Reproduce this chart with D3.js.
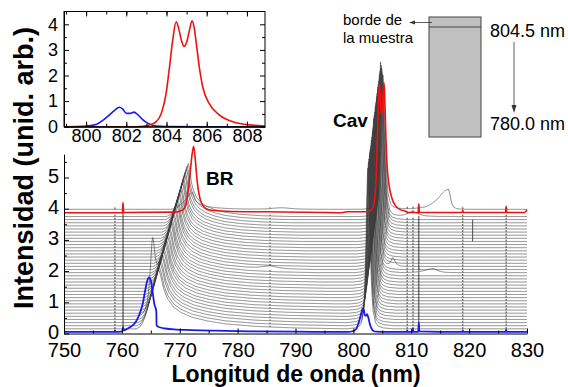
<!DOCTYPE html>
<html><head><meta charset="utf-8">
<script src="https://cdn.jsdelivr.net/npm/d3@7"></script>
<style>body{margin:0;background:#fff}svg{display:block}text{font-family:"Liberation Sans",Arial,sans-serif}</style>
</head><body><svg id="c" width="568" height="387"></svg>
<script>
// ---------- DATA ----------
const mainXTicks = [750,760,770,780,790,800,810,820,830];
const mainYTicks = [0,1,2,3,4,5];
const insetXTicks = [800,802,804,806,808];
const insetYTicks = [0,1,2,3,4];

// black spectra (bottom to top): baseline, BR peak, Cav peak
const blackBase = [0.15,0.25,0.35,0.45,0.55,0.65,0.75,0.85,0.95,1.05,1.15,1.25,1.35,1.45,1.55,1.65,1.75,1.85,1.95,2.05,2.15,2.25,2.35,2.45,2.55,2.65,2.75,2.85,2.95,3.05,3.15,3.25,3.35,3.45,3.55,3.65,3.75,3.98];
const brPos = [766.3,766.4,766.6,766.7,766.9,767.0,767.2,767.3,767.5,767.6,767.7,767.9,768.0,768.2,768.3,768.5,768.6,768.7,768.9,769.0,769.2,769.3,769.5,769.6,769.7,769.9,770.0,770.2,770.3,770.5,770.6,770.7,770.9,771.0,771.2,771.3,771.5,772.2];
const brAmp = [1.95,1.94,1.94,1.93,1.92,1.92,1.91,1.90,1.89,1.89,1.88,1.87,1.87,1.86,1.85,1.85,1.84,1.83,1.82,1.82,1.81,1.80,1.80,1.79,1.78,1.78,1.77,1.76,1.75,1.75,1.74,1.73,1.73,1.72,1.71,1.71,1.70,0.55];
const brTail = [1.30,1.28,1.27,1.25,1.23,1.22,1.20,1.18,1.17,1.15,1.13,1.12,1.10,1.08,1.07,1.05,1.03,1.02,1.00,0.98,0.97,0.95,0.93,0.92,0.90,0.88,0.87,0.85,0.83,0.82,0.80,0.78,0.77,0.75,0.73,0.72,0.70,0.50];
const cavPos = [802.5,802.6,802.6,802.7,802.8,802.8,802.9,803.0,803.1,803.1,803.2,803.3,803.3,803.4,803.5,803.5,803.6,803.7,803.8,803.8,803.9,804.0,804.0,804.1,804.2,804.2,804.3,804.4,804.5,804.5,804.6,804.7,804.7,804.8,804.9,804.9,805.0,805.1];
const cavAmp = [5.15,5.15,5.15,5.15,5.15,5.15,5.15,5.15,5.15,5.15,5.15,5.15,5.15,5.15,5.25,5.25,5.25,5.25,5.25,5.25,5.25,5.25,5.25,5.25,5.25,5.25,5.25,5.25,5.25,5.25,5.25,5.25,5.35,5.15,4.95,4.75,4.55,4.30];
const cavHW = [0.36, 0.44];

// line shapes (dx in nm or half-widths, relative height)
const brLeft = [[-3.8,0],[-3.2,0.03],[-2.7,0.1],[-2.2,0.22],[-1.8,0.36],[-1.4,0.5],[-1.0,0.64],[-0.6,0.8],[-0.3,0.92],[0,1]];
const brRight = [[0,1],[0.3,0.88],[0.7,0.66],[1.2,0.5],[2,0.36],[3,0.27],[4.5,0.19],[6.5,0.13],[9,0.08],[13,0.04],[18,0.015],[25,0]];
const peakShape = [[0,1],[0.25,0.94],[0.5,0.8],[0.75,0.63],[1,0.47],[1.5,0.25],[2,0.12],[3,0.04],[4,0.018],[6,0.006],[10,0]];

// extra features: [spectrum, centre, amplitude, hwLeft, hwRight]
const extraPeaks = [[4,765.3,1.7,0.45,0.45],[20,806.8,0.25,0.35,0.5],[18,813.7,0.13,1.6,1.0],[19,785.6,0.08,1.5,1.5],[36,810.1,0.15,1.0,1.3],[37,816.4,0.65,2.0,0.45],[37,787.5,0.05,2,2]];
// narrow spikes common to all black spectra
const spikeX = [758.8,760.2,785.6,809.3,810.3,811.3,818.9,826.4];
const spikeH = [0.06,0.12,0.04,0.06,0.06,0.12,0.06,0.06];
// single drop spike: [spectrum, x, amplitude]
const dropSpikes = [[35,820.6,-0.7]];

// blue (bottom) and red (top) spectra outside the Cav window
const blueX = [750,758.7,758.8,758.9,760.1,760.2,760.3,761,761.8,762.5,763.1,763.6,764.0,764.4,764.7,765.0,765.3,765.6,765.95,766.0,766.5,767.5,769,772,776,782,790,798];
const blueY = [0.05,0.05,0.1,0.05,0.07,0.2,0.1,0.16,0.25,0.4,0.65,0.95,1.35,1.7,1.8,1.7,1.35,0.95,0.72,0.25,0.2,0.16,0.13,0.11,0.09,0.07,0.06,0.05];
const blueX2 = [809.2,809.3,809.4,810.2,810.3,810.4,811.2,811.3,811.4,818.8,818.9,819.0,826.3,826.4,826.5,830];
const blueY2 = [0.05,0.1,0.05,0.05,0.15,0.05,0.05,0.35,0.07,0.05,0.1,0.05,0.05,0.12,0.05,0.05];
const redX = [750,760.1,760.2,760.3,769,770,770.6,771.0,771.4,771.8,772.1,772.4,772.7,773.0,773.4,773.9,774.6,775.5,778,785,795,798];
const redY = [3.87,3.87,4.2,3.88,3.89,3.92,3.97,4.1,4.5,5.15,5.7,6.0,5.55,4.9,4.4,4.12,4.0,3.95,3.92,3.9,3.88,3.87];
const redX2 = [809.5,811.2,811.3,811.4,818.8,818.9,819.0,826.3,826.4,826.5,829.6,830];
const redY2 = [3.88,3.88,4.15,3.88,3.88,3.95,3.88,3.88,4.08,3.88,3.88,3.97];
const blueBase = 0.05, redBase = 3.9;

// inset (Cav window) spectra
const insetBlueX = [798.9,800.03,800.53,800.85,801.19,801.43,801.65,801.81,802.0,802.2,802.38,802.58,802.8,803.08,803.49,804.0,806,808.9];
const insetBlueY = [0,0.03,0.1,0.26,0.48,0.65,0.76,0.7,0.52,0.52,0.57,0.46,0.29,0.13,0.03,0.01,0,0];
const insetRedX = [798.9,802.5,803.16,803.49,803.74,803.98,804.15,804.31,804.48,804.6,804.75,804.87,805.0,805.15,805.27,805.38,805.46,805.63,805.8,806.12,806.62,807.27,808.1,808.9];
const insetRedY = [0,0,0.07,0.2,0.52,1.3,2.34,3.39,4.1,3.85,3.35,3.13,3.3,3.8,4.14,3.85,3.39,2.34,1.56,0.91,0.46,0.2,0.07,0.03];

// ---------- DRAW ----------
const svg = d3.select("#c");
const x = d3.scaleLinear().domain([750,830]).range([64,527]);
const y = d3.scaleLinear().domain([0,5.75]).range([333.5,154.1]);

function lookup(t,d){
  const n=t.length;
  if(d<=t[0][0]) return t[0][1];
  if(d>=t[n-1][0]) return t[n-1][1];
  for(let i=1;i<n;i++){ if(d<=t[i][0]){ const a=t[i-1],b=t[i]; return a[1]+(b[1]-a[1])*(d-a[0])/(b[0]-a[0]); } }
  return 0;
}
let xs = d3.range(7500,8301).map(i=>i/10);
spikeX.concat(dropSpikes.map(d=>d[1])).forEach(s=>{xs.push(s-0.02,s,s+0.02);});
xs.sort((a,b)=>a-b);
xs = xs.filter((v,i)=>i===0||v-xs[i-1]>1e-6);

function blackY(i,xv){
  let v=blackBase[i];
  const dB=xv-brPos[i];
  v += brAmp[i]*(dB<0?lookup(brLeft,dB):lookup(brRight,dB/brTail[i]));
  const dC=xv-cavPos[i];
  v += cavAmp[i]*lookup(peakShape,Math.abs(dC)/(dC<0?cavHW[0]:cavHW[1]));
  extraPeaks.forEach(p=>{ if(p[0]===i){ const d=xv-p[1]; v+=p[2]*lookup(peakShape,Math.abs(d)/(d<0?p[3]:p[4])); }});
  spikeX.forEach((s,j)=>{ if(Math.abs(xv-s)<0.004) v+=spikeH[j]; });
  dropSpikes.forEach(p=>{ if(p[0]===i && Math.abs(xv-p[1])<0.004) v+=p[2]; });
  return v;
}
const lineLin = d3.line().x(d=>x(d[0])).y(d=>y(d[1]));
const lineSm = d3.line().x(d=>x(d[0])).y(d=>y(d[1])).curve(d3.curveMonotoneX);

const gB = svg.append("g");
blackBase.forEach((b,i)=>{
  gB.append("path").attr("d",lineLin(xs.map(xv=>[xv,blackY(i,xv)])))
    .attr("fill","none").attr("stroke","#3c3c3c").attr("stroke-width",0.6);
});
function composite(xa,ya,ix,iy,base,xb,yb){
  const pts=[];
  xa.forEach((v,i)=>pts.push([v,ya[i]]));
  ix.forEach((v,i)=>pts.push([v,iy[i]+base]));
  xb.forEach((v,i)=>pts.push([v,yb[i]]));
  return pts;
}
svg.append("path").attr("d",lineSm(composite(blueX,blueY,insetBlueX,insetBlueY,blueBase,blueX2,blueY2)))
  .attr("fill","none").attr("stroke","#1a1aee").attr("stroke-width",1.8);
svg.append("path").attr("d",lineSm(composite(redX,redY,insetRedX,insetRedY,redBase,redX2,redY2)))
  .attr("fill","none").attr("stroke","#ee1111").attr("stroke-width",1.6);

function styleAxis(g,fs){
  g.selectAll("path.domain").attr("stroke","#000").attr("stroke-width",1);
  g.selectAll(".tick line").attr("stroke","#000").attr("stroke-width",1);
  g.selectAll("text").attr("font-size",fs).attr("fill","#000").attr("font-family","'Liberation Sans',Arial,sans-serif");
}
const axB = svg.append("g").attr("transform","translate(0,333.5)")
  .call(d3.axisBottom(x).tickValues(mainXTicks).tickSizeInner(-5).tickSizeOuter(0).tickPadding(9.5).tickFormat(d3.format("d")));
styleAxis(axB,20);
svg.append("g").attr("transform","translate(0,333.5)")
  .call(d3.axisBottom(x).tickValues(d3.range(755,830,10)).tickSizeInner(-3).tickSizeOuter(0).tickFormat(""))
  .call(g=>{g.select(".domain").remove(); g.selectAll(".tick line").attr("stroke","#000");});
const axL = svg.append("g").attr("transform","translate(64,0)")
  .call(d3.axisLeft(y).tickValues(mainYTicks).tickSizeInner(-5).tickSizeOuter(0).tickPadding(5).tickFormat(d3.format("d")));
styleAxis(axL,20);
axL.selectAll("text").attr("dy","0.25em");
svg.append("g").attr("transform","translate(64,0)")
  .call(d3.axisLeft(y).tickValues([0.5,1.5,2.5,3.5,4.5,5.5]).tickSizeInner(-3).tickSizeOuter(0).tickFormat(""))
  .call(g=>{g.select(".domain").remove(); g.selectAll(".tick line").attr("stroke","#000");});

svg.append("text").attr("x",296).attr("y",382).attr("text-anchor","middle")
  .attr("font-size",23).attr("font-weight","bold").text("Longitud de onda (nm)");
svg.append("text").attr("transform","translate(33,168) rotate(-90)").attr("text-anchor","middle")
  .attr("font-size",27).attr("font-weight","bold").text("Intensidad (unid. arb.)");
svg.append("text").attr("x",206).attr("y",185).attr("font-size",19).attr("font-weight","bold").text("BR");
svg.append("text").attr("x",333).attr("y",127).attr("font-size",19).attr("font-weight","bold").text("Cav");

// inset
const xi = d3.scaleLinear().domain([798.9,808.9]).range([64,265]);
const yi = d3.scaleLinear().domain([0,4.5]).range([126.7,11.5]);
const gi = svg.append("g");
gi.append("rect").attr("x",64).attr("y",11.5).attr("width",201).attr("height",115.2).attr("fill","#fff");
const li = d3.line().x(d=>xi(d[0])).y(d=>yi(d[1])).curve(d3.curveMonotoneX);
gi.append("path").attr("d",li(insetBlueX.map((v,i)=>[v,insetBlueY[i]]))).attr("fill","none").attr("stroke","#1a1aee").attr("stroke-width",1.6);
gi.append("path").attr("d",li(insetRedX.map((v,i)=>[v,insetRedY[i]]))).attr("fill","none").attr("stroke","#ee1111").attr("stroke-width",1.6);
gi.append("rect").attr("x",64).attr("y",11.5).attr("width",201).attr("height",115.2).attr("fill","none").attr("stroke","#000").attr("stroke-width",1);
const minorXi = d3.range(799,809,1), minorYi=[0.5,1.5,2.5,3.5];
const aIB = gi.append("g").attr("transform","translate(0,126.7)")
  .call(d3.axisBottom(xi).tickValues(insetXTicks).tickSizeInner(-5).tickSizeOuter(0).tickPadding(3).tickFormat(d3.format("d")));
styleAxis(aIB,18);
gi.append("g").attr("transform","translate(0,126.7)").call(d3.axisBottom(xi).tickValues(minorXi).tickSizeInner(-3).tickSizeOuter(0).tickFormat(""))
  .call(g=>{g.select(".domain").remove(); g.selectAll(".tick line").attr("stroke","#000");});
gi.append("g").attr("transform","translate(0,11.5)").call(d3.axisTop(xi).tickValues(insetXTicks).tickSizeInner(-5).tickSizeOuter(0).tickFormat(""))
  .call(g=>{g.select(".domain").remove(); g.selectAll(".tick line").attr("stroke","#000");});
gi.append("g").attr("transform","translate(0,11.5)").call(d3.axisTop(xi).tickValues(minorXi).tickSizeInner(-3).tickSizeOuter(0).tickFormat(""))
  .call(g=>{g.select(".domain").remove(); g.selectAll(".tick line").attr("stroke","#000");});
const aIL = gi.append("g").attr("transform","translate(64,0)")
  .call(d3.axisLeft(yi).tickValues(insetYTicks).tickSizeInner(-5).tickSizeOuter(0).tickPadding(6).tickFormat(d3.format("d")));
styleAxis(aIL,18);
gi.append("g").attr("transform","translate(64,0)").call(d3.axisLeft(yi).tickValues(minorYi).tickSizeInner(-3).tickSizeOuter(0).tickFormat(""))
  .call(g=>{g.select(".domain").remove(); g.selectAll(".tick line").attr("stroke","#000");});
gi.append("g").attr("transform","translate(265,0)").call(d3.axisRight(yi).tickValues(insetYTicks).tickSizeInner(-5).tickSizeOuter(0).tickFormat(""))
  .call(g=>{g.select(".domain").remove(); g.selectAll(".tick line").attr("stroke","#000");});
gi.append("g").attr("transform","translate(265,0)").call(d3.axisRight(yi).tickValues(minorYi).tickSizeInner(-3).tickSizeOuter(0).tickFormat(""))
  .call(g=>{g.select(".domain").remove(); g.selectAll(".tick line").attr("stroke","#000");});

// sample diagram
const gd = svg.append("g");
gd.append("rect").attr("x",429).attr("y",17).attr("width",52).attr("height",120).attr("fill","#c0c0c0").attr("stroke","#444").attr("stroke-width",1);
gd.append("line").attr("x1",429).attr("x2",481).attr("y1",27).attr("y2",27).attr("stroke","#444").attr("stroke-width",1.2);
gd.append("line").attr("x1",432).attr("x2",414).attr("y1",22.5).attr("y2",22.5).attr("stroke","#333").attr("stroke-width",0.8);
gd.append("path").attr("d","M409,22.5 L415,20.5 L415,24.5 Z").attr("fill","#333");
gd.append("line").attr("x1",514).attr("x2",514).attr("y1",42).attr("y2",106).attr("stroke","#333").attr("stroke-width",0.8);
gd.append("path").attr("d","M514,113 L511.5,105 L516.5,105 Z").attr("fill","#333");
gd.append("text").attr("x",343).attr("y",25).attr("font-size",15).text("borde de");
gd.append("text").attr("x",343).attr("y",43).attr("font-size",15).text("la muestra");
gd.append("text").attr("x",490).attr("y",37).attr("font-size",18).text("804.5 nm");
gd.append("text").attr("x",490).attr("y",130).attr("font-size",18).text("780.0 nm");
</script></body></html>
